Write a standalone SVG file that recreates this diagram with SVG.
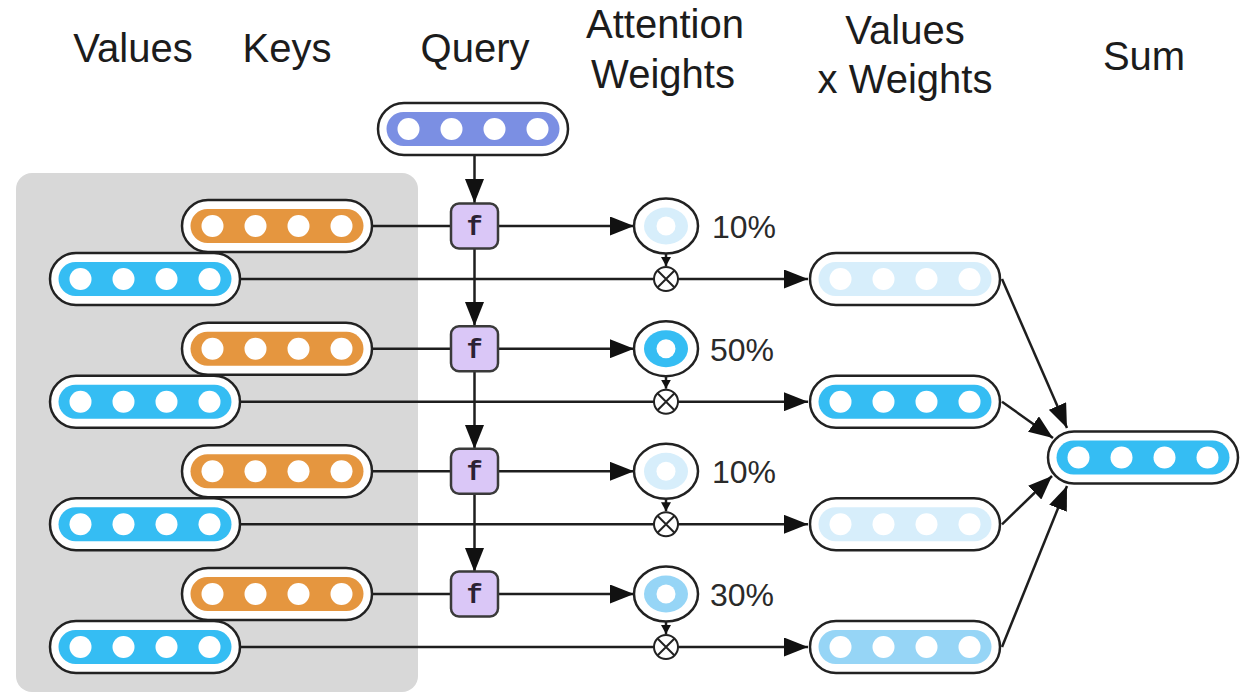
<svg xmlns="http://www.w3.org/2000/svg" xmlns:xlink="http://www.w3.org/1999/xlink" width="1250" height="693" viewBox="0 0 1250 693">
  <style>
    .hdr { font-family: "Liberation Sans", Arial, sans-serif; font-size: 40px; fill: #1c1c1c; text-anchor: middle; }
    .pct { font-family: "Liberation Sans", Arial, sans-serif; font-size: 32px; fill: #2a2a2a; }
    .fn { font-family: "Liberation Mono", "DejaVu Sans Mono", monospace; font-size: 27px; font-weight: bold; fill: #2b2233; text-anchor: middle; }
    .pill-outer { fill: #ffffff; stroke: #222222; stroke-width: 2.5; }
    .pill-inner { stroke: none; }
    .dot { fill: #ffffff; }
    /* the inner band of a pill inherits its colour from the node group */
    .query { fill: #7b8fe3; }
    .key { fill: #e5963f; }
    .value { fill: #35bdf3; }
    .w10 { fill: #d7eefb; }
    .w30 { fill: #96d5f6; }
    .w50 { fill: #35bdf3; }
    .fbox rect { fill: #dac7f7; stroke: #3a3a3a; stroke-width: 2.5; }
    .att .ring-outer { fill: #ffffff; stroke: #222222; stroke-width: 2.5; }
    .att .ring-hole { fill: #ffffff; }
    .a10 .ring-fill { fill: #d7eefb; }
    .a30 .ring-fill { fill: #96d5f6; }
    .a50 .ring-fill { fill: #35bdf3; }
    .mul circle { fill: #ffffff; stroke: #222222; stroke-width: 2; }
    .mul path { stroke: #222222; stroke-width: 2; fill: none; }
    .edge { stroke: #1e1e1e; stroke-width: 2.5; fill: none; }
    .arr { marker-end: url(#head); }
    .arr-sm { marker-end: url(#head-sm); }
  </style>
  <defs>
    <marker id="head" viewBox="0 0 10 10" refX="10" refY="5" markerUnits="userSpaceOnUse" markerWidth="24" markerHeight="19" orient="auto" preserveAspectRatio="none">
      <path d="M0,0 L10,5 L0,10 z" fill="#111111"/>
    </marker>
    <marker id="head-sm" viewBox="0 0 10 10" refX="10" refY="5" markerUnits="userSpaceOnUse" markerWidth="9" markerHeight="10" orient="auto" preserveAspectRatio="none">
      <path d="M0,0 L10,5 L0,10 z" fill="#111111"/>
    </marker>
    <!-- four white slots of a vector pill, 190 x 52 -->
    <g id="dots">
      <circle class="dot" cx="30.5" cy="26" r="11"/>
      <circle class="dot" cx="73.5" cy="26" r="11"/>
      <circle class="dot" cx="116.5" cy="26" r="11"/>
      <circle class="dot" cx="159.5" cy="26" r="11"/>
    </g>
    <g id="pill">
      <rect class="pill-outer" x="0" y="0" width="190" height="52" rx="26"/>
      <rect class="pill-inner" x="8.5" y="9" width="173" height="34" rx="17"/>
      <use xlink:href="#dots"/>
    </g>
  </defs>

  <rect width="1250" height="693" fill="#ffffff"/>

  <!-- column headings -->
  <g id="headings">
    <text class="hdr" x="133" y="62">Values</text>
    <text class="hdr" x="287" y="62">Keys</text>
    <text class="hdr" x="475" y="62">Query</text>
    <text class="hdr" x="665" y="38">Attention</text>
    <text class="hdr" x="663" y="88">Weights</text>
    <text class="hdr" x="905" y="44">Values</text>
    <text class="hdr" x="905" y="93">x Weights</text>
    <text class="hdr" x="1144" y="70">Sum</text>
  </g>

  <!-- memory panel holding the key/value pairs -->
  <rect id="memory" x="16" y="173" width="402" height="519" rx="16" fill="#d8d8d8"/>

  <!-- connectors -->
  <g id="connectors">
    <!-- query into first score function, then chained down -->
    <line class="edge arr" x1="474.5" y1="155" x2="474.5" y2="203"/>
    <line class="edge arr" x1="474.5" y1="248" x2="474.5" y2="326"/>
    <line class="edge arr" x1="474.5" y1="371" x2="474.5" y2="449"/>
    <line class="edge arr" x1="474.5" y1="494" x2="474.5" y2="572"/>
    <!-- keys into score functions -->
    <line class="edge" x1="372" y1="226" x2="451" y2="226"/>
    <line class="edge" x1="372" y1="348.7" x2="451" y2="348.7"/>
    <line class="edge" x1="372" y1="471.3" x2="451" y2="471.3"/>
    <line class="edge" x1="372" y1="594" x2="451" y2="594"/>
    <!-- scores into attention weights -->
    <line class="edge arr" x1="498" y1="226" x2="634" y2="226"/>
    <line class="edge arr" x1="498" y1="348.7" x2="634" y2="348.7"/>
    <line class="edge arr" x1="498" y1="471.3" x2="634" y2="471.3"/>
    <line class="edge arr" x1="498" y1="594" x2="634" y2="594"/>
    <!-- values through the multipliers -->
    <line class="edge arr" x1="240" y1="279" x2="808" y2="279"/>
    <line class="edge arr" x1="240" y1="401.7" x2="808" y2="401.7"/>
    <line class="edge arr" x1="240" y1="524.3" x2="808" y2="524.3"/>
    <line class="edge arr" x1="240" y1="647" x2="808" y2="647"/>
    <!-- weights down into the multipliers -->
    <line class="edge arr-sm" x1="666" y1="253" x2="666" y2="266"/>
    <line class="edge arr-sm" x1="666" y1="375.7" x2="666" y2="388.7"/>
    <line class="edge arr-sm" x1="666" y1="498.3" x2="666" y2="511.3"/>
    <line class="edge arr-sm" x1="666" y1="621" x2="666" y2="634"/>
    <!-- weighted values into the sum -->
    <line class="edge arr" x1="1002" y1="279" x2="1067" y2="428"/>
    <line class="edge arr" x1="1002" y1="401.7" x2="1053" y2="438"/>
    <line class="edge arr" x1="1002" y1="524.3" x2="1052" y2="476"/>
    <line class="edge arr" x1="1002" y1="647" x2="1067" y2="486"/>
  </g>

  <!-- query vector -->
  <g id="query" class="query"><use xlink:href="#pill" x="378" y="103"/></g>

  <!-- keys and values -->
  <g id="key-1" class="key"><use xlink:href="#pill" x="182" y="200"/></g>
  <g id="value-1" class="value"><use xlink:href="#pill" x="50" y="253"/></g>
  <g id="key-2" class="key"><use xlink:href="#pill" x="182" y="322.7"/></g>
  <g id="value-2" class="value"><use xlink:href="#pill" x="50" y="375.7"/></g>
  <g id="key-3" class="key"><use xlink:href="#pill" x="182" y="445.3"/></g>
  <g id="value-3" class="value"><use xlink:href="#pill" x="50" y="498.3"/></g>
  <g id="key-4" class="key"><use xlink:href="#pill" x="182" y="568"/></g>
  <g id="value-4" class="value"><use xlink:href="#pill" x="50" y="621"/></g>

  <!-- score functions -->
  <g id="f-1" class="fbox"><rect x="451" y="203.5" width="47" height="45" rx="8"/><text class="fn" x="474.5" y="235">f</text></g>
  <g id="f-2" class="fbox"><rect x="451" y="326.2" width="47" height="45" rx="8"/><text class="fn" x="474.5" y="357.7">f</text></g>
  <g id="f-3" class="fbox"><rect x="451" y="448.8" width="47" height="45" rx="8"/><text class="fn" x="474.5" y="480.3">f</text></g>
  <g id="f-4" class="fbox"><rect x="451" y="571.5" width="47" height="45" rx="8"/><text class="fn" x="474.5" y="603">f</text></g>

  <!-- attention weights -->
  <g id="att-1" class="att a10">
    <ellipse class="ring-outer" cx="666" cy="226" rx="32" ry="27.5"/>
    <ellipse class="ring-fill" cx="666" cy="226" rx="22" ry="18.5"/>
    <circle class="ring-hole" cx="666" cy="226" r="9.5"/>
    <text class="pct" x="712" y="238">10%</text>
  </g>
  <g id="att-2" class="att a50">
    <ellipse class="ring-outer" cx="666" cy="348.7" rx="32" ry="27.5"/>
    <ellipse class="ring-fill" cx="666" cy="348.7" rx="22" ry="18.5"/>
    <circle class="ring-hole" cx="666" cy="348.7" r="9.5"/>
    <text class="pct" x="710" y="360.7">50%</text>
  </g>
  <g id="att-3" class="att a10">
    <ellipse class="ring-outer" cx="666" cy="471.3" rx="32" ry="27.5"/>
    <ellipse class="ring-fill" cx="666" cy="471.3" rx="22" ry="18.5"/>
    <circle class="ring-hole" cx="666" cy="471.3" r="9.5"/>
    <text class="pct" x="712" y="483.3">10%</text>
  </g>
  <g id="att-4" class="att a30">
    <ellipse class="ring-outer" cx="666" cy="594" rx="32" ry="27.5"/>
    <ellipse class="ring-fill" cx="666" cy="594" rx="22" ry="18.5"/>
    <circle class="ring-hole" cx="666" cy="594" r="9.5"/>
    <text class="pct" x="710" y="606">30%</text>
  </g>

  <!-- multipliers -->
  <g id="mul-1" class="mul"><circle cx="666" cy="279" r="12"/><path d="M657.5,270.5 L674.5,287.5 M674.5,270.5 L657.5,287.5"/></g>
  <g id="mul-2" class="mul"><circle cx="666" cy="401.7" r="12"/><path d="M657.5,393.2 L674.5,410.2 M674.5,393.2 L657.5,410.2"/></g>
  <g id="mul-3" class="mul"><circle cx="666" cy="524.3" r="12"/><path d="M657.5,515.8 L674.5,532.8 M674.5,515.8 L657.5,532.8"/></g>
  <g id="mul-4" class="mul"><circle cx="666" cy="647" r="12"/><path d="M657.5,638.5 L674.5,655.5 M674.5,638.5 L657.5,655.5"/></g>

  <!-- weighted values -->
  <g id="weighted-1" class="w10"><use xlink:href="#pill" x="810" y="253"/></g>
  <g id="weighted-2" class="w50"><use xlink:href="#pill" x="810" y="375.7"/></g>
  <g id="weighted-3" class="w10"><use xlink:href="#pill" x="810" y="498.3"/></g>
  <g id="weighted-4" class="w30"><use xlink:href="#pill" x="810" y="621"/></g>

  <!-- sum -->
  <g id="sum" class="value"><use xlink:href="#pill" x="1048" y="431.5"/></g>
</svg>
